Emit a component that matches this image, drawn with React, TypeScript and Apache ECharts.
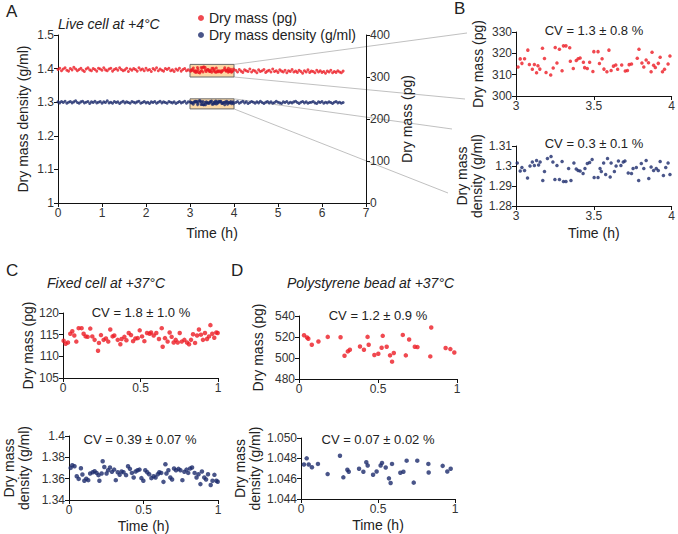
import React, { useEffect, useRef } from "react";
import * as echarts from "echarts";

const FONT = "Liberation Sans, Arial, Helvetica, sans-serif";
const RED = "#ec1c24";
const NAVY = "#1c2a6b";

// ---------- Panel A (outside the 3–4 h window), sampled every 0.04 h ----------
const A_STEP_H = 0.04;
const A_EARLY_START = 0;
const A_LATE_START = 4.04;
const aMassEarly = [
  318, 321, 315, 319, 322, 316, 314, 320, 317, 323,
  319, 315, 318, 321, 316, 313, 319, 322, 317, 315,
  320, 318, 314, 321, 319, 316, 322, 317, 315, 319,
  321, 314, 318, 320, 316, 322, 318, 315, 317, 321,
  313, 319, 316, 320, 318, 314, 322, 317, 319, 315,
  321, 316, 318, 313, 320, 317, 322, 315, 319, 316,
  314, 320, 318, 321, 315, 317, 313, 319, 316, 321,
  314, 318, 320, 315, 317,
];
const aMassLate = [
  316, 312, 318, 314, 311, 317, 315, 313, 319, 312,
  316, 314, 310, 317, 313, 315, 318, 311, 314, 316,
  312, 319, 313, 315, 311, 317, 314, 312, 316, 310,
  315, 313, 318, 312, 314, 311, 316, 313, 309, 315,
  312, 317, 311, 314, 313, 310, 316, 312, 315, 311,
  313, 309, 314, 312, 316, 310, 313, 311, 315, 312,
  310, 314,
];
const aDensEarly = [
  1.301, 1.298, 1.302, 1.299, 1.303, 1.297, 1.3, 1.302, 1.298, 1.301,
  1.304, 1.299, 1.297, 1.301, 1.303, 1.298, 1.3, 1.302, 1.296, 1.301,
  1.299, 1.303, 1.298, 1.3, 1.302, 1.297, 1.301, 1.299, 1.304, 1.298,
  1.3, 1.297, 1.302, 1.299, 1.301, 1.296, 1.3, 1.303, 1.298, 1.301,
  1.299, 1.297, 1.302, 1.3, 1.298, 1.301, 1.303, 1.297, 1.299, 1.302,
  1.298, 1.3, 1.296, 1.301, 1.299, 1.302, 1.297, 1.3, 1.303, 1.298,
  1.301, 1.299, 1.297, 1.302, 1.3, 1.298, 1.301, 1.296, 1.299, 1.302,
  1.298, 1.3, 1.303, 1.297, 1.301,
];
const aDensLate = [
  1.299, 1.302, 1.297, 1.3, 1.303, 1.298, 1.301, 1.296, 1.299, 1.302,
  1.3, 1.297, 1.301, 1.298, 1.303, 1.299, 1.296, 1.3, 1.302, 1.298,
  1.301, 1.297, 1.299, 1.303, 1.3, 1.298, 1.296, 1.301, 1.299, 1.302,
  1.297, 1.3, 1.298, 1.301, 1.303, 1.299, 1.296, 1.3, 1.302, 1.298,
  1.301, 1.297, 1.299, 1.3, 1.302, 1.298, 1.296, 1.301, 1.299, 1.302,
  1.297, 1.3, 1.298, 1.301, 1.299, 1.296, 1.3, 1.302, 1.298, 1.3,
  1.297, 1.299,
];

// ---------- Panel B: zoom on 3–4 h ----------
const bMassTime = [
  3.013, 3.027, 3.038, 3.055, 3.076, 3.086, 3.105, 3.118, 3.132, 3.141,
  3.153, 3.17, 3.183, 3.193, 3.223, 3.239, 3.252, 3.263, 3.279, 3.296,
  3.305, 3.321, 3.345, 3.349, 3.368, 3.387, 3.399, 3.412, 3.433, 3.441,
  3.458, 3.473, 3.494, 3.5, 3.527, 3.536, 3.553, 3.565, 3.584, 3.597,
  3.611, 3.626, 3.641, 3.653, 3.679, 3.702, 3.716, 3.727, 3.742, 3.779,
  3.79, 3.809, 3.821, 3.836, 3.851, 3.868, 3.874, 3.884, 3.895, 3.914,
  3.926, 3.941, 3.954, 3.977, 3.989,
];
const bMass = [
  313.6, 317.4, 315.3, 317.5, 321.5, 314.8, 312.5, 314.8, 310.9, 314.2,
  312.6, 322.4, 317.6, 311.0, 309.8, 313.1, 322.7, 315.5, 321.9, 311.8,
  323.5, 323.5, 322.6, 316.3, 312.9, 316.6, 317.5, 317.8, 315.8, 313.3,
  312.9, 315.8, 311.5, 320.8, 320.8, 315.2, 317.5, 312.6, 311.4, 321.5,
  312.0, 314.0, 314.5, 312.5, 314.5, 311.7, 312.0, 314.7, 315.0, 317.7,
  321.9, 315.5, 313.6, 316.9, 315.6, 311.4, 320.5, 314.4, 313.4, 315.3,
  318.2, 311.4, 312.5, 315.0, 318.8,
];
const bDensTime = [
  3.008, 3.027, 3.038, 3.055, 3.074, 3.09, 3.105, 3.118, 3.132, 3.145,
  3.155, 3.172, 3.183, 3.202, 3.225, 3.237, 3.25, 3.263, 3.279, 3.296,
  3.305, 3.321, 3.338, 3.353, 3.372, 3.387, 3.399, 3.412, 3.431, 3.443,
  3.458, 3.473, 3.489, 3.502, 3.527, 3.54, 3.548, 3.563, 3.576, 3.588,
  3.605, 3.611, 3.632, 3.643, 3.658, 3.674, 3.689, 3.7, 3.721, 3.742,
  3.752, 3.773, 3.788, 3.805, 3.821, 3.836, 3.853, 3.868, 3.884, 3.901,
  3.914, 3.926, 3.947, 3.962, 3.977, 3.989,
];
const bDens = [
  1.3015, 1.2975, 1.2992, 1.2978, 1.294, 1.3, 1.302, 1.3003, 1.3028, 1.3005,
  1.302, 1.2928, 1.2973, 1.3037, 1.3048, 1.302, 1.2932, 1.3002, 1.2932, 1.3022,
  1.2923, 1.2922, 1.2987, 1.2927, 1.3015, 1.2985, 1.2978, 1.2975, 1.2963, 1.2988,
  1.3012, 1.3017, 1.3032, 1.2942, 1.2942, 1.2988, 1.2972, 1.3015, 1.2958, 1.3037,
  1.2945, 1.3015, 1.2973, 1.3, 1.3025, 1.3003, 1.302, 1.3025, 1.2965, 1.2962,
  1.2987, 1.2992, 1.2927, 1.3012, 1.2987, 1.3028, 1.2937, 1.2995, 1.2978, 1.2988,
  1.2978, 1.3022, 1.2953, 1.2992, 1.3015, 1.2958,
];

// ---------- Panel C: fixed cell ----------
const cMassTime = [
  0.004, 0.017, 0.032, 0.047, 0.06, 0.073, 0.086, 0.101, 0.12, 0.133,
  0.146, 0.159, 0.176, 0.189, 0.204, 0.226, 0.232, 0.245, 0.262, 0.277,
  0.292, 0.305, 0.32, 0.331, 0.353, 0.37, 0.378, 0.396, 0.409, 0.424,
  0.439, 0.452, 0.467, 0.482, 0.495, 0.51, 0.525, 0.542, 0.559, 0.568,
  0.585, 0.602, 0.619, 0.637, 0.643, 0.658, 0.675, 0.688, 0.701, 0.714,
  0.727, 0.74, 0.753, 0.766, 0.783, 0.8, 0.813, 0.826, 0.839, 0.852,
  0.865, 0.877, 0.89, 0.903, 0.916, 0.929, 0.942, 0.951, 0.963, 0.976,
  0.989, 0.998,
];
const cMass = [
  113.6, 112.9, 113.2, 115.2, 115.8, 114.8, 113.4, 116.5, 116.5, 115.2,
  114.6, 114.5, 116.4, 114.6, 113.8, 111.3, 113.1, 114.9, 113.8, 114.1,
  113.4, 116.2, 114.6, 114.8, 113.8, 112.8, 114.0, 114.5, 113.7, 115.4,
  114.9, 113.5, 114.1, 114.2, 116.0, 114.6, 113.5, 115.4, 115.2, 115.5,
  114.8, 115.4, 114.0, 116.5, 112.2, 114.2, 113.4, 115.5, 114.5, 113.2,
  113.8, 113.2, 115.4, 113.4, 113.8, 113.2, 112.8, 113.8, 115.1, 113.1,
  114.8, 116.2, 115.0, 113.8, 115.4, 114.0, 114.6, 117.2, 115.2, 114.3,
  115.5, 115.4,
];
const cDensTime = [
  0.011, 0.022, 0.037, 0.052, 0.065, 0.08, 0.09, 0.103, 0.116, 0.129,
  0.142, 0.159, 0.172, 0.185, 0.198, 0.204, 0.219, 0.226, 0.237, 0.252,
  0.262, 0.275, 0.288, 0.303, 0.314, 0.327, 0.34, 0.353, 0.366, 0.383,
  0.396, 0.409, 0.422, 0.434, 0.447, 0.46, 0.473, 0.486, 0.499, 0.512,
  0.525, 0.538, 0.553, 0.568, 0.581, 0.596, 0.606, 0.619, 0.634, 0.647,
  0.654, 0.667, 0.68, 0.692, 0.705, 0.718, 0.735, 0.748, 0.761, 0.774,
  0.789, 0.8, 0.813, 0.826, 0.843, 0.856, 0.869, 0.882, 0.892, 0.908,
  0.92, 0.933, 0.951, 0.963, 0.976, 0.989, 0.998,
];
const cDens = [
  1.3701, 1.3726, 1.3716, 1.3623, 1.3598, 1.3698, 1.3639, 1.358, 1.36, 1.3586,
  1.3648, 1.366, 1.367, 1.3654, 1.3633, 1.358, 1.3648, 1.3763, 1.371, 1.3648,
  1.3679, 1.3704, 1.3664, 1.3685, 1.3586, 1.366, 1.3636, 1.3667, 1.366, 1.3633,
  1.3716, 1.3692, 1.3654, 1.3611, 1.3667, 1.3679, 1.3685, 1.3605, 1.358, 1.3679,
  1.366, 1.3642, 1.3605, 1.3623, 1.3611, 1.3642, 1.366, 1.3654, 1.357, 1.3735,
  1.3648, 1.3679, 1.3611, 1.3592, 1.3695, 1.3679, 1.3692, 1.3679, 1.3586, 1.3664,
  1.3685, 1.3654, 1.3695, 1.3704, 1.3654, 1.3611, 1.3642, 1.3549, 1.3667, 1.3611,
  1.3592, 1.3642, 1.354, 1.358, 1.3636, 1.358, 1.3571,
];

// ---------- Panel D: polystyrene bead ----------
const dMassTime = [
  0.032, 0.051, 0.059, 0.081, 0.123, 0.182, 0.263, 0.288, 0.309, 0.322,
  0.386, 0.411, 0.434, 0.441, 0.477, 0.502, 0.523, 0.53, 0.555, 0.576,
  0.589, 0.6, 0.657, 0.676, 0.697, 0.733, 0.75, 0.831, 0.837, 0.928,
  0.958, 0.983,
];
const dMass = [
  521.7, 519.5, 518.3, 512.6, 515.7, 520.1, 519.8, 502.2, 506.3, 507.8,
  511.0, 507.8, 520.1, 512.6, 502.8, 504.1, 509.8, 521.1, 510.7, 502.5,
  496.5, 504.7, 522.0, 502.5, 517.6, 510.7, 510.4, 501.5, 529.0, 509.5,
  508.5, 505.3,
];
const dDensTime = [
  0.019, 0.037, 0.05, 0.071, 0.11, 0.173, 0.253, 0.275, 0.301, 0.31,
  0.377, 0.405, 0.424, 0.433, 0.468, 0.491, 0.517, 0.526, 0.55, 0.571,
  0.582, 0.591, 0.645, 0.665, 0.686, 0.732, 0.755, 0.827, 0.829, 0.92,
  0.95, 0.972,
];
const dDens = [
  1.04739, 1.048, 1.04739, 1.04713, 1.04745, 1.04645, 1.04826, 1.04613, 1.04687, 1.04668,
  1.04697, 1.04668, 1.04761, 1.04729, 1.04639, 1.04671, 1.04729, 1.04755, 1.0471, 1.04603,
  1.04558, 1.04745, 1.04658, 1.04668, 1.04777, 1.04561, 1.04777, 1.04745, 1.04661, 1.04726,
  1.04671, 1.04697,
];

const zip = (t: number[], v: number[]) => v.map((y, i) => [t[i], y]);
const sampled = (start: number, v: number[]) =>
  v.map((y, i) => [+(start + i * A_STEP_H).toFixed(3), y]);

const axisBase = {
  type: "value" as const,
  axisLine: { show: true, onZero: false, lineStyle: { color: "#111", width: 1 } },
  axisTick: { show: true, length: 4, lineStyle: { color: "#111" } },
  axisLabel: { color: "#333", fontSize: 12, fontFamily: FONT, margin: 4 },
  splitLine: { show: false },
  nameLocation: "middle" as const,
  nameTextStyle: { color: "#222", fontSize: 14, fontFamily: FONT, lineHeight: 15 },
};

export default function App() {
  const ref = useRef<HTMLDivElement>(null);
  useEffect(() => {
    document.body.style.margin = "0";
    const chart = echarts.init(ref.current!, undefined, { renderer: "svg" });
    const grids = [
      { left: 58, top: 35, width: 308, height: 168 },
      { left: 516, top: 32, width: 158, height: 64 },
      { left: 516, top: 146, width: 158, height: 60 },
      { left: 63, top: 313, width: 155, height: 65 },
      { left: 63, top: 436, width: 155, height: 64 },
      { left: 299, top: 316, width: 158, height: 63 },
      { left: 301, top: 438, width: 154, height: 61 },
    ];
    const timeName = (g: number, gap: number) => ({ name: "Time (h)", nameGap: gap, gridIndex: g });
    const xAxis = [
      { ...axisBase, gridIndex: 0, min: 0, max: 7, interval: 1, ...timeName(0, 22) },
      { ...axisBase, gridIndex: 1, min: 3, max: 4, interval: 0.5 },
      { ...axisBase, gridIndex: 2, min: 3, max: 4, interval: 0.5, ...timeName(2, 19) },
      { ...axisBase, gridIndex: 3, min: 0, max: 1, interval: 0.5 },
      { ...axisBase, gridIndex: 4, min: 0, max: 1, interval: 0.5, ...timeName(4, 18) },
      { ...axisBase, gridIndex: 5, min: 0, max: 1, interval: 0.5 },
      { ...axisBase, gridIndex: 6, min: 0, max: 1, interval: 0.5, ...timeName(6, 18) },
    ];
    const yAxis = [
      { ...axisBase, gridIndex: 0, min: 1, max: 1.5, interval: 0.1, name: "Dry mass density (g/ml)", nameRotate: 90, nameGap: 28 },
      { ...axisBase, gridIndex: 0, position: "right", min: 0, max: 400, interval: 100, name: "Dry mass (pg)", nameRotate: 90, nameGap: 33 },
      { ...axisBase, gridIndex: 1, min: 300, max: 330, interval: 10, name: "Dry mass (pg)", nameRotate: 90, nameGap: 31 },
      { ...axisBase, gridIndex: 2, min: 1.28, max: 1.31, interval: 0.01, name: "Dry mass\ndensity (g/ml)", nameRotate: 90, nameGap: 30 },
      { ...axisBase, gridIndex: 3, min: 105, max: 120, interval: 5, name: "Dry mass (pg)", nameRotate: 90, nameGap: 28 },
      { ...axisBase, gridIndex: 4, min: 1.34, max: 1.4, interval: 0.02, name: "Dry mass\ndensity (g/ml)", nameRotate: 90, nameGap: 38 },
      { ...axisBase, gridIndex: 5, min: 480, max: 540, interval: 20, name: "Dry mass (pg)", nameRotate: 90, nameGap: 34 },
      {
        ...axisBase, gridIndex: 6, min: 1.044, max: 1.05, interval: 0.002, name: "Dry mass\ndensity (g/ml)", nameRotate: 90, nameGap: 39,
        axisLabel: { ...axisBase.axisLabel, formatter: (v: number) => v.toFixed(3) },
      },
    ];
    const rectStyle = { color: "#fcd8a4", borderColor: "#6a6a6a", borderWidth: 1 };
    const dots = (name: string, color: string, x: number, y: number, data: number[][], size: number) => ({
      type: "scatter", name, xAxisIndex: x, yAxisIndex: y, data, symbolSize: size, z: 3,
      itemStyle: { color }, silent: true,
    });
    const series: any[] = [
      {
        type: "scatter", xAxisIndex: 0, yAxisIndex: 1, data: [], z: 1, silent: true,
        markArea: { silent: true, itemStyle: rectStyle, data: [[{ coord: [3, 330] }, { coord: [4, 300] }]] },
      },
      {
        type: "scatter", xAxisIndex: 0, yAxisIndex: 0, data: [], z: 1, silent: true,
        markArea: { silent: true, itemStyle: rectStyle, data: [[{ coord: [3, 1.31] }, { coord: [4, 1.28] }]] },
      },
      dots("Dry mass (pg)", RED, 0, 1,
        [...sampled(A_EARLY_START, aMassEarly), ...zip(bMassTime, bMass), ...sampled(A_LATE_START, aMassLate)], 3),
      dots("Dry mass density (g/ml)", NAVY, 0, 0,
        [...sampled(A_EARLY_START, aDensEarly), ...zip(bDensTime, bDens), ...sampled(A_LATE_START, aDensLate)], 3),
      dots("Dry mass (pg)", RED, 1, 2, zip(bMassTime, bMass), 3.5),
      dots("Dry mass density (g/ml)", NAVY, 2, 3, zip(bDensTime, bDens), 3.5),
      dots("Dry mass (pg)", RED, 3, 4, zip(cMassTime, cMass), 4.5),
      dots("Dry mass density (g/ml)", NAVY, 4, 5, zip(cDensTime, cDens), 4.5),
      dots("Dry mass (pg)", RED, 5, 6, zip(dMassTime, dMass), 4.5),
      dots("Dry mass density (g/ml)", NAVY, 6, 7, zip(dDensTime, dDens), 4.5),
    ];
    const txt = (text: string, x: number, y: number, size: number, opts: any = {}) => ({
      type: "text", x, y, silent: true,
      style: { text, fontSize: size, fontFamily: FONT, fill: "#222", textVerticalAlign: "middle", ...opts },
    });
    const labels = [
      txt("A", 6, 11, 17),
      txt("B", 454, 8, 17),
      txt("C", 6, 270, 17),
      txt("D", 231, 270, 17),
      txt("Live cell at +4°C", 58, 24, 14, { fontStyle: "italic" }),
      txt("Fixed cell at +37°C", 47, 283, 14, { fontStyle: "italic" }),
      txt("Polystyrene bead at +37°C", 287, 283, 14, { fontStyle: "italic" }),
      txt("CV = 1.3 ± 0.8 %", 594, 30, 13, { textAlign: "center" }),
      txt("CV = 0.3 ± 0.1 %", 594, 143, 13, { textAlign: "center" }),
      txt("CV = 1.8 ± 1.0 %", 141, 312, 13, { textAlign: "center" }),
      txt("CV = 0.39 ± 0.07 %", 140, 439, 13, { textAlign: "center" }),
      txt("CV = 1.2 ± 0.9 %", 378, 315, 13, { textAlign: "center" }),
      txt("CV = 0.07 ± 0.02 %", 378, 439, 13, { textAlign: "center" }),
    ];
    chart.setOption({
      animation: false,
      grid: grids,
      xAxis,
      yAxis,
      series,
      legend: {
        orient: "vertical", left: 193, top: 6, itemWidth: 6, itemHeight: 6, itemGap: 3,
        icon: "circle", selectedMode: false,
        data: ["Dry mass (pg)", "Dry mass density (g/ml)"],
        textStyle: { fontSize: 14, color: "#222", fontFamily: FONT },
      },
      graphic: labels,
    });
    // connector lines from the highlighted boxes in A to the zoomed panels in B
    const pA = (x: number, y: number, yIdx: number) =>
      chart.convertToPixel({ xAxisIndex: 0, yAxisIndex: yIdx }, [x, y]) as number[];
    const gB1 = grids[1];
    const gB2 = grids[2];
    const lineStyle = { stroke: "#b0b0b0", lineWidth: 0.8 };
    const conn = (a: number[], b: number[]) => ({
      type: "line", silent: true, z: 0,
      shape: { x1: a[0], y1: a[1], x2: b[0], y2: b[1] }, style: lineStyle,
    });
    const connectors = [
      conn(pA(4, 330, 1), [gB1.left - 49, gB1.top + 1]),
      conn(pA(4, 300, 1), [gB1.left - 51, gB1.top + gB1.height + 3]),
      conn(pA(4, 1.31, 0), [gB2.left - 64, gB2.top - 17]),
      conn(pA(4, 1.28, 0), [gB2.left - 68, gB2.top + gB2.height - 13]),
    ];
    chart.setOption({ graphic: [...labels, ...connectors] });
    return () => chart.dispose();
  }, []);
  return <div ref={ref} style={{ width: 678, height: 534 }} />;
}
